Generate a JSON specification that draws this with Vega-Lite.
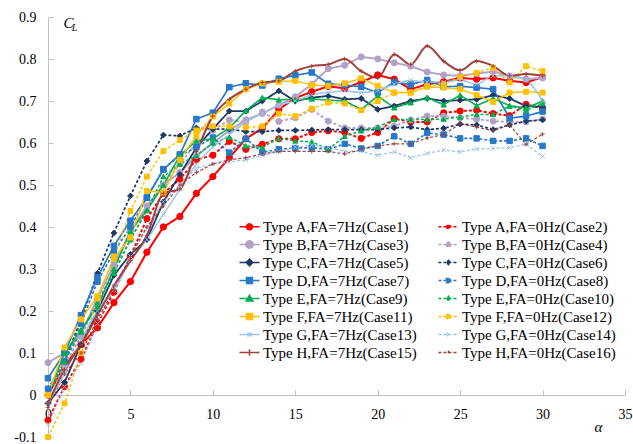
{
  "$schema": "https://vega.github.io/schema/vega-lite/v6.json",
  "width": 577,
  "height": 420,
  "autosize": "none",
  "padding": {"left": 48, "top": 17, "right": 8, "bottom": 7},
  "background": "white",
  "config": {
    "view": {"stroke": null},
    "font": "'Liberation Serif', 'Times New Roman', serif",
    "axis": {"grid": false, "domainColor": "#BFBFBF", "tickColor": "#BFBFBF", "labelFont": "'Liberation Serif', 'Times New Roman', serif", "labelFontSize": 14, "labelColor": "#000000", "titleFont": "'Liberation Serif', 'Times New Roman', serif", "titleFontWeight": "normal", "titleColor": "#000000"},
    "legend": {"orient": "none", "legendX": 192, "legendY": 200, "columns": 2, "labelFont": "'Liberation Serif', 'Times New Roman', serif", "labelFontSize": 15, "labelColor": "#000000", "symbolSize": 289, "symbolStrokeWidth": 1.5, "symbolOpacity": 1, "rowPadding": 0, "columnPadding": 18, "labelOffset": 4, "labelLimit": 0}
  },
  "datasets": {
    "names": [
      {"k": "c1", "series": "Type A,FA=7Hz(Case1)"},
      {"k": "c2", "series": "Type A,FA=0Hz(Case2)"},
      {"k": "c3", "series": "Type B,FA=7Hz(Case3)"},
      {"k": "c4", "series": "Type B,FA=0Hz(Case4)"},
      {"k": "c5", "series": "Type C,FA=7Hz(Case5)"},
      {"k": "c6", "series": "Type C,FA=0Hz(Case6)"},
      {"k": "c7", "series": "Type D,FA=7Hz(Case7)"},
      {"k": "c8", "series": "Type D,FA=0Hz(Case8)"},
      {"k": "c9", "series": "Type E,FA=7Hz(Case9)"},
      {"k": "c10", "series": "Type E,FA=0Hz(Case10)"},
      {"k": "c11", "series": "Type F,FA=7Hz(Case11)"},
      {"k": "c12", "series": "Type F,FA=0Hz(Case12)"},
      {"k": "c13", "series": "Type G,FA=7Hz(Case13)"},
      {"k": "c14", "series": "Type G,FA=0Hz(Case14)"},
      {"k": "c15", "series": "Type H,FA=7Hz(Case15)"},
      {"k": "c16", "series": "Type H,FA=0Hz(Case16)"}
    ]
  },
  "data": {"values": [
    {"a": 0, "c1": 0.0, "c2": -0.06, "c3": 0.077, "c4": 0.0, "c5": -0.02, "c6": 0.0, "c7": 0.04, "c8": 0.015, "c9": 0.0, "c10": 0.0, "c11": 0.0, "c12": -0.1, "c13": -0.02, "c14": -0.07, "c15": -0.02, "c16": -0.03},
    {"a": 1, "c1": 0.07, "c2": 0.02, "c3": 0.10, "c4": 0.07, "c5": 0.03, "c6": 0.08, "c7": 0.10, "c8": 0.08, "c9": 0.10, "c10": 0.08, "c11": 0.113, "c12": -0.02, "c13": 0.05, "c14": 0.02, "c15": 0.06, "c16": 0.05},
    {"a": 2, "c1": 0.12, "c2": 0.085, "c3": 0.145, "c4": 0.14, "c5": 0.12, "c6": 0.18, "c7": 0.19, "c8": 0.17, "c9": 0.155, "c10": 0.15, "c11": 0.18, "c12": 0.10, "c13": 0.13, "c14": 0.075, "c15": 0.12, "c16": 0.10},
    {"a": 3, "c1": 0.16, "c2": 0.17, "c3": 0.23, "c4": 0.22, "c5": 0.20, "c6": 0.29, "c7": 0.28, "c8": 0.27, "c9": 0.21, "c10": 0.22, "c11": 0.235, "c12": 0.23, "c13": 0.20, "c14": 0.17, "c15": 0.19, "c16": 0.18},
    {"a": 4, "c1": 0.22, "c2": 0.245, "c3": 0.31, "c4": 0.30, "c5": 0.285, "c6": 0.386, "c7": 0.355, "c8": 0.34, "c9": 0.30, "c10": 0.29, "c11": 0.325, "c12": 0.33, "c13": 0.25, "c14": 0.26, "c15": 0.26, "c16": 0.25},
    {"a": 5, "c1": 0.27, "c2": 0.33, "c3": 0.39, "c4": 0.37, "c5": 0.335, "c6": 0.474, "c7": 0.415, "c8": 0.40, "c9": 0.39, "c10": 0.37, "c11": 0.375, "c12": 0.438, "c13": 0.32, "c14": 0.33, "c15": 0.32, "c16": 0.33},
    {"a": 6, "c1": 0.34, "c2": 0.42, "c3": 0.45, "c4": 0.44, "c5": 0.37, "c6": 0.557, "c7": 0.47, "c8": 0.47, "c9": 0.44, "c10": 0.44, "c11": 0.486, "c12": 0.52, "c13": 0.37, "c14": 0.40, "c15": 0.38, "c16": 0.40},
    {"a": 7, "c1": 0.40, "c2": 0.48, "c3": 0.50, "c4": 0.50, "c5": 0.46, "c6": 0.619, "c7": 0.537, "c8": 0.538, "c9": 0.50, "c10": 0.52, "c11": 0.482, "c12": 0.581, "c13": 0.43, "c14": 0.46, "c15": 0.48, "c16": 0.45},
    {"a": 8, "c1": 0.425, "c2": 0.514, "c3": 0.53, "c4": 0.55, "c5": 0.525, "c6": 0.617, "c7": 0.573, "c8": 0.57, "c9": 0.57, "c10": 0.55, "c11": 0.56, "c12": 0.607, "c13": 0.49, "c14": 0.50, "c15": 0.49, "c16": 0.50},
    {"a": 9, "c1": 0.48, "c2": 0.56, "c3": 0.57, "c4": 0.60, "c5": 0.589, "c6": 0.636, "c7": 0.657, "c8": 0.59, "c9": 0.605, "c10": 0.57, "c11": 0.617, "c12": 0.63, "c13": 0.55, "c14": 0.54, "c15": 0.58, "c16": 0.53},
    {"a": 10, "c1": 0.52, "c2": 0.571, "c3": 0.60, "c4": 0.63, "c5": 0.633, "c6": 0.633, "c7": 0.672, "c8": 0.613, "c9": 0.61, "c10": 0.60, "c11": 0.663, "c12": 0.64, "c13": 0.59, "c14": 0.55, "c15": 0.664, "c16": 0.55},
    {"a": 11, "c1": 0.565, "c2": 0.604, "c3": 0.63, "c4": 0.655, "c5": 0.676, "c6": 0.633, "c7": 0.733, "c8": 0.577, "c9": 0.636, "c10": 0.614, "c11": 0.694, "c12": 0.64, "c13": 0.62, "c14": 0.555, "c15": 0.704, "c16": 0.56},
    {"a": 12, "c1": 0.61, "c2": 0.585, "c3": 0.655, "c4": 0.65, "c5": 0.676, "c6": 0.627, "c7": 0.742, "c8": 0.61, "c9": 0.677, "c10": 0.593, "c11": 0.728, "c12": 0.637, "c13": 0.65, "c14": 0.56, "c15": 0.728, "c16": 0.565},
    {"a": 13, "c1": 0.635, "c2": 0.597, "c3": 0.67, "c4": 0.674, "c5": 0.70, "c6": 0.627, "c7": 0.737, "c8": 0.578, "c9": 0.708, "c10": 0.59, "c11": 0.742, "c12": 0.64, "c13": 0.67, "c14": 0.57, "c15": 0.744, "c16": 0.574},
    {"a": 14, "c1": 0.68, "c2": 0.61, "c3": 0.69, "c4": 0.651, "c5": 0.724, "c6": 0.63, "c7": 0.753, "c8": 0.585, "c9": 0.703, "c10": 0.611, "c11": 0.746, "c12": 0.67, "c13": 0.69, "c14": 0.58, "c15": 0.748, "c16": 0.58},
    {"a": 15, "c1": 0.707, "c2": 0.61, "c3": 0.71, "c4": 0.66, "c5": 0.70, "c6": 0.63, "c7": 0.761, "c8": 0.588, "c9": 0.704, "c10": 0.605, "c11": 0.748, "c12": 0.664, "c13": 0.70, "c14": 0.59, "c15": 0.771, "c16": 0.58},
    {"a": 16, "c1": 0.722, "c2": 0.625, "c3": 0.74, "c4": 0.68, "c5": 0.708, "c6": 0.631, "c7": 0.768, "c8": 0.589, "c9": 0.705, "c10": 0.603, "c11": 0.738, "c12": 0.682, "c13": 0.715, "c14": 0.595, "c15": 0.783, "c16": 0.58},
    {"a": 17, "c1": 0.735, "c2": 0.629, "c3": 0.777, "c4": 0.652, "c5": 0.712, "c6": 0.632, "c7": 0.741, "c8": 0.585, "c9": 0.702, "c10": 0.585, "c11": 0.736, "c12": 0.696, "c13": 0.72, "c14": 0.59, "c15": 0.787, "c16": 0.58},
    {"a": 18, "c1": 0.73, "c2": 0.625, "c3": 0.785, "c4": 0.636, "c5": 0.704, "c6": 0.632, "c7": 0.738, "c8": 0.598, "c9": 0.70, "c10": 0.616, "c11": 0.742, "c12": 0.694, "c13": 0.724, "c14": 0.58, "c15": 0.80, "c16": 0.574},
    {"a": 19, "c1": 0.745, "c2": 0.611, "c3": 0.805, "c4": 0.636, "c5": 0.706, "c6": 0.632, "c7": 0.734, "c8": 0.587, "c9": 0.68, "c10": 0.629, "c11": 0.754, "c12": 0.678, "c13": 0.72, "c14": 0.58, "c15": 0.771, "c16": 0.585},
    {"a": 20, "c1": 0.762, "c2": 0.625, "c3": 0.80, "c4": 0.636, "c5": 0.68, "c6": 0.632, "c7": 0.72, "c8": 0.593, "c9": 0.712, "c10": 0.638, "c11": 0.736, "c12": 0.70, "c13": 0.725, "c14": 0.571, "c15": 0.755, "c16": 0.593},
    {"a": 21, "c1": 0.752, "c2": 0.658, "c3": 0.791, "c4": 0.64, "c5": 0.688, "c6": 0.636, "c7": 0.745, "c8": 0.616, "c9": 0.684, "c10": 0.656, "c11": 0.72, "c12": 0.72, "c13": 0.74, "c14": 0.579, "c15": 0.811, "c16": 0.598},
    {"a": 22, "c1": 0.728, "c2": 0.65, "c3": 0.783, "c4": 0.655, "c5": 0.70, "c6": 0.638, "c7": 0.739, "c8": 0.598, "c9": 0.696, "c10": 0.656, "c11": 0.72, "c12": 0.72, "c13": 0.749, "c14": 0.565, "c15": 0.787, "c16": 0.598},
    {"a": 23, "c1": 0.74, "c2": 0.65, "c3": 0.769, "c4": 0.664, "c5": 0.706, "c6": 0.632, "c7": 0.75, "c8": 0.624, "c9": 0.708, "c10": 0.656, "c11": 0.734, "c12": 0.735, "c13": 0.745, "c14": 0.575, "c15": 0.831, "c16": 0.612},
    {"a": 24, "c1": 0.746, "c2": 0.672, "c3": 0.762, "c4": 0.664, "c5": 0.70, "c6": 0.635, "c7": 0.734, "c8": 0.62, "c9": 0.691, "c10": 0.657, "c11": 0.732, "c12": 0.74, "c13": 0.745, "c14": 0.583, "c15": 0.795, "c16": 0.62},
    {"a": 25, "c1": 0.755, "c2": 0.676, "c3": 0.76, "c4": 0.66, "c5": 0.702, "c6": 0.645, "c7": 0.735, "c8": 0.611, "c9": 0.714, "c10": 0.662, "c11": 0.728, "c12": 0.757, "c13": 0.75, "c14": 0.579, "c15": 0.773, "c16": 0.646},
    {"a": 26, "c1": 0.752, "c2": 0.678, "c3": 0.765, "c4": 0.657, "c5": 0.704, "c6": 0.643, "c7": 0.732, "c8": 0.611, "c9": 0.689, "c10": 0.668, "c11": 0.714, "c12": 0.767, "c13": 0.74, "c14": 0.586, "c15": 0.795, "c16": 0.638},
    {"a": 27, "c1": 0.755, "c2": 0.67, "c3": 0.77, "c4": 0.652, "c5": 0.714, "c6": 0.632, "c7": 0.728, "c8": 0.605, "c9": 0.706, "c10": 0.668, "c11": 0.698, "c12": 0.779, "c13": 0.76, "c14": 0.587, "c15": 0.783, "c16": 0.629},
    {"a": 28, "c1": 0.748, "c2": 0.665, "c3": 0.76, "c4": 0.65, "c5": 0.706, "c6": 0.643, "c7": 0.659, "c8": 0.605, "c9": 0.689, "c10": 0.688, "c11": 0.72, "c12": 0.744, "c13": 0.76, "c14": 0.589, "c15": 0.76, "c16": 0.643},
    {"a": 29, "c1": 0.744, "c2": 0.692, "c3": 0.752, "c4": 0.65, "c5": 0.688, "c6": 0.652, "c7": 0.664, "c8": 0.611, "c9": 0.683, "c10": 0.678, "c11": 0.722, "c12": 0.783, "c13": 0.75, "c14": 0.597, "c15": 0.764, "c16": 0.597},
    {"a": 30, "c1": 0.757, "c2": 0.682, "c3": 0.755, "c4": 0.657, "c5": 0.686, "c6": 0.655, "c7": 0.675, "c8": 0.593, "c9": 0.70, "c10": 0.694, "c11": 0.72, "c12": 0.771, "c13": 0.70, "c14": 0.568, "c15": 0.76, "c16": 0.621}
  ]},
  "transform": [
    {"fold": ["c1", "c2", "c3", "c4", "c5", "c6", "c7", "c8", "c9", "c10", "c11", "c12", "c13", "c14", "c15", "c16"], "as": ["k", "cl"]},
    {"lookup": "k", "from": {"data": {"name": "names"}, "key": "k", "fields": ["series"]}}
  ],
  "title": {"text": "图  升力曲线", "orient": "bottom", "frame": "group", "anchor": "middle", "offset": 4, "dx": -50, "font": "Noto Sans CJK SC", "fontSize": 16, "fontWeight": "normal", "color": "#000000"},
  "encoding": {
    "x": {"field": "a", "type": "quantitative", "scale": {"domain": [0, 35], "nice": false},
      "axis": {"values": [0, 5, 10, 15, 20, 25, 30, 35], "format": "d", "offset": -42, "tickSize": -5, "labelPadding": 17, "labelFlush": false, "labelOverlap": false, "title": "α", "titleFontStyle": "italic", "titleFontSize": 15, "titleX": 550, "titleY": 31, "titleAlign": "center", "titleBaseline": "middle"}}
  },
  "layer": [
    {
      "transform": [{"filter": {"not": {"field": "k", "oneOf": ["c13", "c15"]}}}],
      "mark": {"type": "line", "interpolate": "linear"},
      "encoding": {
        "y": {"field": "cl", "type": "quantitative", "scale": {"domain": [-0.1, 0.9], "nice": false, "zero": false},
          "axis": {"orient": "left", "values": [-0.1, 0, 0.1, 0.2, 0.3, 0.4, 0.5, 0.6, 0.7, 0.8, 0.9], "labelExpr": "datum.value == 0 ? '0' : replace(format(datum.value, '.1f'), '\u2212', '-')", "tickSize": -5, "labelPadding": 17, "title": "C", "titleAngle": 0, "titleFontStyle": "italic", "titleFontSize": 15, "titleX": 20, "titleY": 5, "titleAlign": "center", "titleBaseline": "middle"}},
        "color": {"field": "k", "type": "nominal", "legend": null, "scale": {"domain": ["c1", "c2", "c3", "c4", "c5", "c6", "c7", "c8", "c9", "c10", "c11", "c12", "c13", "c14", "c15", "c16"], "range": ["#FF0000", "#FF0000", "#B2A1C7", "#B2A1C7", "#1F3864", "#1F3864", "#2878C8", "#2878C8", "#00B050", "#00B050", "#FFC000", "#FFC000", "#9DC3E6", "#9DC3E6", "#A0403C", "#A0403C"]}},
        "strokeDash": {"field": "k", "type": "nominal", "legend": null, "scale": {"domain": ["c1", "c2", "c3", "c4", "c5", "c6", "c7", "c8", "c9", "c10", "c11", "c12", "c13", "c14", "c15", "c16"], "range": [[1, 0], [3, 2], [1, 0], [3, 2], [1, 0], [3, 2], [1, 0], [3, 2], [1, 0], [3, 2], [1, 0], [3, 2], [1, 0], [3, 2], [1, 0], [3, 2]]}},
        "strokeWidth": {"field": "k", "type": "nominal", "legend": null, "scale": {"domain": ["c1", "c2", "c3", "c4", "c5", "c6", "c7", "c8", "c9", "c10", "c11", "c12", "c13", "c14", "c15", "c16"], "range": [2, 1.2, 2, 1.2, 2, 1.2, 2, 1.2, 2, 1.2, 2, 1.2, 1.5, 1.2, 2, 1.2]}}
      }
    },
    {
      "transform": [{"filter": {"field": "k", "oneOf": ["c13", "c15"]}}],
      "mark": {"type": "line", "interpolate": "monotone"},
      "encoding": {
        "y": {"field": "cl", "type": "quantitative", "axis": null},
        "color": {"field": "k", "type": "nominal", "legend": null, "scale": {"domain": ["c13", "c15"], "range": ["#9DC3E6", "#A0403C"]}},
        "strokeWidth": {"field": "k", "type": "nominal", "legend": null, "scale": {"domain": ["c13", "c15"], "range": [1.5, 2]}}
      }
    },
    {
      "mark": {"type": "point", "filled": true, "opacity": 1, "strokeWidth": 1},
      "encoding": {
        "y": {"field": "cl", "type": "quantitative", "axis": null},
        "color": {"field": "k", "type": "nominal", "legend": null, "scale": {"domain": ["c1", "c2", "c3", "c4", "c5", "c6", "c7", "c8", "c9", "c10", "c11", "c12", "c13", "c14", "c15", "c16"], "range": ["#FF0000", "#FF0000", "#B2A1C7", "#B2A1C7", "#1F3864", "#1F3864", "#2878C8", "#2878C8", "#00B050", "#00B050", "#FFC000", "#FFC000", "#9DC3E6", "#9DC3E6", "#A0403C", "#A0403C"]}},
        "stroke": {"field": "k", "type": "nominal", "legend": null, "scale": {"domain": ["c1", "c2", "c3", "c4", "c5", "c6", "c7", "c8", "c9", "c10", "c11", "c12", "c13", "c14", "c15", "c16"], "range": ["#FF0000", "#FF0000", "#B2A1C7", "#B2A1C7", "#1F3864", "#1F3864", "#2878C8", "#2878C8", "#00B050", "#00B050", "#FFC000", "#FFC000", "#9DC3E6", "#9DC3E6", "#A0403C", "#A0403C"]}},
        "shape": {"field": "k", "type": "nominal", "legend": null, "scale": {"domain": ["c1", "c2", "c3", "c4", "c5", "c6", "c7", "c8", "c9", "c10", "c11", "c12", "c13", "c14", "c15", "c16"], "range": ["circle", "circle", "circle", "circle", "diamond", "diamond", "square", "square", "triangle-up", "triangle-up", "square", "square", "M-1,-1L1,1M-1,1L1,-1", "M-1,-1L1,1M-1,1L1,-1", "M-1,0H1M0,-1V1", "M-1,0H1M0,-1V1"]}},
        "size": {"field": "k", "type": "nominal", "legend": null, "scale": {"domain": ["c1", "c2", "c3", "c4", "c5", "c6", "c7", "c8", "c9", "c10", "c11", "c12", "c13", "c14", "c15", "c16"], "range": [40, 18, 60, 28, 30, 14, 49, 30, 40, 20, 49, 22, 30, 25, 40, 20]}}
      }
    },
    {
      "mark": {"type": "point", "filled": true, "opacity": 0},
      "encoding": {
        "y": {"field": "cl", "type": "quantitative", "axis": {"orient": "left", "domain": false, "ticks": false, "labels": false, "title": "L", "titleAngle": 0, "titleFontStyle": "italic", "titleFontSize": 10, "titleX": 26, "titleY": 10, "titleAlign": "center", "titleBaseline": "middle"}},
        "color": {"field": "series", "type": "nominal", "legend": {"title": null}, "scale": {"domain": ["Type A,FA=7Hz(Case1)", "Type B,FA=7Hz(Case3)", "Type C,FA=7Hz(Case5)", "Type D,FA=7Hz(Case7)", "Type E,FA=7Hz(Case9)", "Type F,FA=7Hz(Case11)", "Type G,FA=7Hz(Case13)", "Type H,FA=7Hz(Case15)", "Type A,FA=0Hz(Case2)", "Type B,FA=0Hz(Case4)", "Type C,FA=0Hz(Case6)", "Type D,FA=0Hz(Case8)", "Type E,FA=0Hz(Case10)", "Type F,FA=0Hz(Case12)", "Type G,FA=0Hz(Case14)", "Type H,FA=0Hz(Case16)"], "range": ["#FF0000", "#B2A1C7", "#1F3864", "#2878C8", "#00B050", "#FFC000", "#9DC3E6", "#A0403C", "#FF0000", "#B2A1C7", "#1F3864", "#2878C8", "#00B050", "#FFC000", "#9DC3E6", "#A0403C"]}},
        "stroke": {"field": "series", "type": "nominal", "legend": {"title": null}, "scale": {"domain": ["Type A,FA=7Hz(Case1)", "Type B,FA=7Hz(Case3)", "Type C,FA=7Hz(Case5)", "Type D,FA=7Hz(Case7)", "Type E,FA=7Hz(Case9)", "Type F,FA=7Hz(Case11)", "Type G,FA=7Hz(Case13)", "Type H,FA=7Hz(Case15)", "Type A,FA=0Hz(Case2)", "Type B,FA=0Hz(Case4)", "Type C,FA=0Hz(Case6)", "Type D,FA=0Hz(Case8)", "Type E,FA=0Hz(Case10)", "Type F,FA=0Hz(Case12)", "Type G,FA=0Hz(Case14)", "Type H,FA=0Hz(Case16)"], "range": ["#FF0000", "#B2A1C7", "#1F3864", "#2878C8", "#00B050", "#FFC000", "#9DC3E6", "#A0403C", "#FF0000", "#B2A1C7", "#1F3864", "#2878C8", "#00B050", "#FFC000", "#9DC3E6", "#A0403C"]}},
        "shape": {"field": "series", "type": "nominal", "legend": {"title": null}, "scale": {"domain": ["Type A,FA=7Hz(Case1)", "Type B,FA=7Hz(Case3)", "Type C,FA=7Hz(Case5)", "Type D,FA=7Hz(Case7)", "Type E,FA=7Hz(Case9)", "Type F,FA=7Hz(Case11)", "Type G,FA=7Hz(Case13)", "Type H,FA=7Hz(Case15)", "Type A,FA=0Hz(Case2)", "Type B,FA=0Hz(Case4)", "Type C,FA=0Hz(Case6)", "Type D,FA=0Hz(Case8)", "Type E,FA=0Hz(Case10)", "Type F,FA=0Hz(Case12)", "Type G,FA=0Hz(Case14)", "Type H,FA=0Hz(Case16)"], "range": [
          "M-1.18,0H1.18M-0.35,0A0.35,0.35 0 1,0 0.35,0A0.35,0.35 0 1,0 -0.35,0Z",
          "M-1.18,0H1.18M-0.43,0A0.43,0.43 0 1,0 0.43,0A0.43,0.43 0 1,0 -0.43,0Z",
          "M-1.18,0H1.18M0,-0.39L0.39,0L0,0.39L-0.39,0Z",
          "M-1.18,0H1.18M-0.35,-0.35H0.35V0.35H-0.35Z",
          "M-1.18,0H1.18M0,-0.39L0.39,0.29L-0.39,0.29Z",
          "M-1.18,0H1.18M-0.35,-0.35H0.35V0.35H-0.35Z",
          "M-1.18,0H1.18M-0.23,-0.23L0.23,0.23M-0.23,0.23L0.23,-0.23",
          "M-1.18,0H1.18M0,-0.39V0.39",
          "M-1.18,0H1.18M-0.23,0A0.23,0.23 0 1,0 0.23,0A0.23,0.23 0 1,0 -0.23,0Z",
          "M-1.18,0H1.18M-0.29,0A0.29,0.29 0 1,0 0.29,0A0.29,0.29 0 1,0 -0.29,0Z",
          "M-1.18,0H1.18M0,-0.25L0.25,0L0,0.25L-0.25,0Z",
          "M-1.18,0H1.18M-0.25,-0.25H0.25V0.25H-0.25Z",
          "M-1.18,0H1.18M0,-0.25L0.25,0.19L-0.25,0.19Z",
          "M-1.18,0H1.18M-0.23,-0.23H0.23V0.23H-0.23Z",
          "M-1.18,0H1.18M-0.19,-0.19L0.19,0.19M-0.19,0.19L0.19,-0.19",
          "M-1.18,0H1.18M0,-0.23V0.23"
        ]}},
        "strokeDash": {"field": "series", "type": "nominal", "legend": {"title": null}, "scale": {"domain": ["Type A,FA=7Hz(Case1)", "Type B,FA=7Hz(Case3)", "Type C,FA=7Hz(Case5)", "Type D,FA=7Hz(Case7)", "Type E,FA=7Hz(Case9)", "Type F,FA=7Hz(Case11)", "Type G,FA=7Hz(Case13)", "Type H,FA=7Hz(Case15)", "Type A,FA=0Hz(Case2)", "Type B,FA=0Hz(Case4)", "Type C,FA=0Hz(Case6)", "Type D,FA=0Hz(Case8)", "Type E,FA=0Hz(Case10)", "Type F,FA=0Hz(Case12)", "Type G,FA=0Hz(Case14)", "Type H,FA=0Hz(Case16)"], "range": [[1, 0], [1, 0], [1, 0], [1, 0], [1, 0], [1, 0], [1, 0], [1, 0], [3, 2], [3, 2], [3, 2], [3, 2], [3, 2], [3, 2], [3, 2], [3, 2]]}}
      }
    }
  ],
  "resolve": {
    "scale": {"color": "independent", "stroke": "independent", "shape": "independent", "strokeDash": "independent", "size": "independent", "strokeWidth": "independent"},
    "axis": {"y": "independent"}
  }
}
